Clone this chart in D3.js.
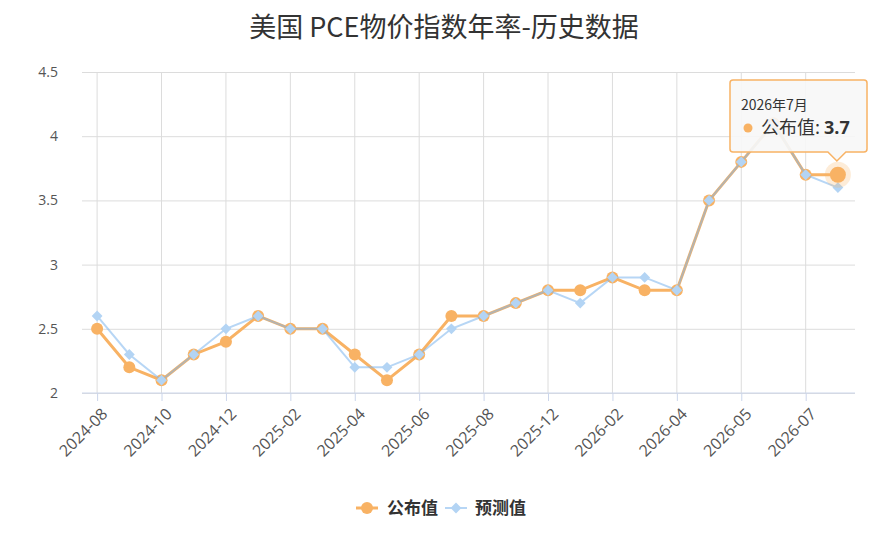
<!DOCTYPE html>
<html>
<head>
<meta charset="utf-8">
<script src="https://cdn.jsdelivr.net/npm/d3@7"></script>
<style>
body { margin: 0; background: #fff; font-family: "Noto Sans CJK SC", "Open Sans", sans-serif; }
</style>
</head>
<body>
<script>
var width = 879, height = 537;

// data
var months = ["2024-08","2024-09","2024-10","2024-11","2024-12","2025-01","2025-02","2025-03",
              "2025-04","2025-05","2025-06","2025-07","2025-08","2025-09","2025-12","2026-01",
              "2026-02","2026-03","2026-04","2026-04","2026-05","2026-06","2026-07","2026-07"];
var actual   = [2.5,2.2,2.1,2.3,2.4,2.6,2.5,2.5,2.3,2.1,2.3,2.6,2.6,2.7,2.8,2.8,2.9,2.8,2.8,3.5,3.8,4.1,3.7,3.7];
var forecast = [2.6,2.3,2.1,2.3,2.5,2.6,2.5,2.5,2.2,2.2,2.3,2.5,2.6,2.7,2.8,2.7,2.9,2.9,2.8,3.5,3.8,4.1,3.7,3.6];
var yTicks = [2, 2.5, 3, 3.5, 4, 4.5];
var seriesNames = ["公布值", "预测值"];

var orange = "#f8b264", blue = "#7cb5ec";

var svg = d3.select("body").append("svg")
    .attr("width", width).attr("height", height);

svg.append("text").attr("x", 444).attr("y", 37)
    .attr("text-anchor", "middle").style("font-size", "27px").attr("fill", "#333")
    .text("美国 PCE物价指数年率-历史数据");

var x = d3.scaleLinear().domain([-0.5, months.length - 0.5]).range([81, 854]);
var y = d3.scaleLinear().domain([2, 4.5]).range([393, 72]);

// horizontal grid + y labels
var yAxis = svg.append("g").attr("transform", "translate(82,0)")
    .call(d3.axisLeft(y).tickValues(yTicks).tickSize(-773).tickFormat(d3.format("")));
yAxis.select(".domain").remove();
yAxis.selectAll("line").attr("stroke", "#dcdcdc");
yAxis.selectAll("text").attr("x", -24).attr("dy", "0.32em")
    .style("font-size", "14px").style("font-family", "Open Sans, sans-serif").attr("fill", "#555");

// vertical grid at every second month
var labelIdx = d3.range(0, months.length, 2);
var xAxis = svg.append("g").attr("transform", "translate(0,393)")
    .call(d3.axisBottom(x).tickValues(labelIdx).tickSize(8).tickFormat(function(i){ return months[i]; }));
xAxis.select(".domain").remove();
xAxis.selectAll("line").attr("stroke", "#ccd6eb");
xAxis.selectAll("text")
    .attr("text-anchor", "end").attr("transform", "translate(7,18) rotate(-45)")
    .attr("y", 0).attr("dy", "0.35em").style("font-size", "16px").style("font-family", "Open Sans, sans-serif").attr("fill", "#555");
svg.append("g").selectAll("line").data(labelIdx).join("line")
    .attr("x1", function(i){ return x(i); }).attr("x2", function(i){ return x(i); })
    .attr("y1", 72).attr("y2", 393).attr("stroke", "#dcdcdc");
svg.append("line").attr("x1", 82).attr("x2", 855).attr("y1", 393).attr("y2", 393).attr("stroke", "#ccd6eb");

var line = d3.line().x(function(d, i){ return x(i); }).y(function(d){ return y(d); });

// 公布值
svg.append("path").datum(actual).attr("d", line)
    .attr("fill", "none").attr("stroke", orange).attr("stroke-width", 3);
svg.append("g").selectAll("circle").data(actual).join("circle")
    .attr("cx", function(d, i){ return x(i); }).attr("cy", function(d){ return y(d); })
    .attr("r", 6).attr("fill", orange);

// 预测值
svg.append("path").datum(forecast).attr("d", line)
    .attr("fill", "none").attr("stroke", blue).attr("stroke-opacity", 0.55).attr("stroke-width", 2);
var diamond = d3.symbol().type(d3.symbolDiamond2).size(75);
svg.append("g").selectAll("path").data(forecast).join("path")
    .attr("d", diamond)
    .attr("transform", function(d, i){ return "translate(" + x(i) + "," + y(d) + ")"; })
    .attr("fill", "#b3d4f4");

// hovered point
var last = actual.length - 1;
svg.append("circle").attr("cx", x(last)).attr("cy", y(actual[last])).attr("r", 13)
    .attr("fill", orange).attr("opacity", 0.25);
svg.append("circle").attr("cx", x(last)).attr("cy", y(actual[last])).attr("r", 8)
    .attr("fill", orange);

// tooltip
var tx = 730, ty = 80, tw = 137, th = 72, ax = x(last) - 1;
svg.append("path")
    .attr("d", "M" + (tx + 3) + "," + ty + " L" + (tx + tw - 3) + "," + ty + " Q" + (tx + tw) + "," + ty + " " + (tx + tw) + "," + (ty + 3) +
        " L" + (tx + tw) + "," + (ty + th - 3) + " Q" + (tx + tw) + "," + (ty + th) + " " + (tx + tw - 3) + "," + (ty + th) +
        " L" + (ax + 9) + "," + (ty + th) + " L" + ax + "," + (ty + th + 9) + " L" + (ax - 9) + "," + (ty + th) +
        " L" + (tx + 3) + "," + (ty + th) + " Q" + tx + "," + (ty + th) + " " + tx + "," + (ty + th - 3) +
        " L" + tx + "," + (ty + 3) + " Q" + tx + "," + ty + " " + (tx + 3) + "," + ty + " Z")
    .attr("fill", "rgba(247,247,247,0.9)").attr("stroke", orange).attr("stroke-width", 1.5);
svg.append("text").attr("x", 741).attr("y", 110).style("font-size", "14px").attr("fill", "#333")
    .text("2026年7月");
svg.append("circle").attr("cx", 748).attr("cy", 128).attr("r", 4.5).attr("fill", orange);
var tt = svg.append("text").attr("x", 761).attr("y", 134).style("font-size", "18px").attr("fill", "#333");
tt.append("tspan").text(seriesNames[0] + ": ");
tt.append("tspan").style("font-weight", "bold").style("font-family", "Open Sans, sans-serif").text(actual[last]);

// legend
var lg = svg.append("g").style("font-size", "17px").style("font-weight", "bold");
lg.append("line").attr("x1", 356).attr("x2", 378).attr("y1", 508).attr("y2", 508).attr("stroke", orange).attr("stroke-width", 3);
lg.append("circle").attr("cx", 367).attr("cy", 508).attr("r", 6).attr("fill", orange);
lg.append("text").attr("x", 387).attr("y", 514).attr("fill", "#333").text(seriesNames[0]);
lg.append("line").attr("x1", 445).attr("x2", 467).attr("y1", 508).attr("y2", 508).attr("stroke", blue).attr("stroke-opacity", 0.55).attr("stroke-width", 2);
lg.append("path").attr("d", diamond).attr("transform", "translate(456,508)").attr("fill", "#b3d4f4");
lg.append("text").attr("x", 475).attr("y", 514).attr("fill", "#333").text(seriesNames[1]);
</script>
</body>
</html>
